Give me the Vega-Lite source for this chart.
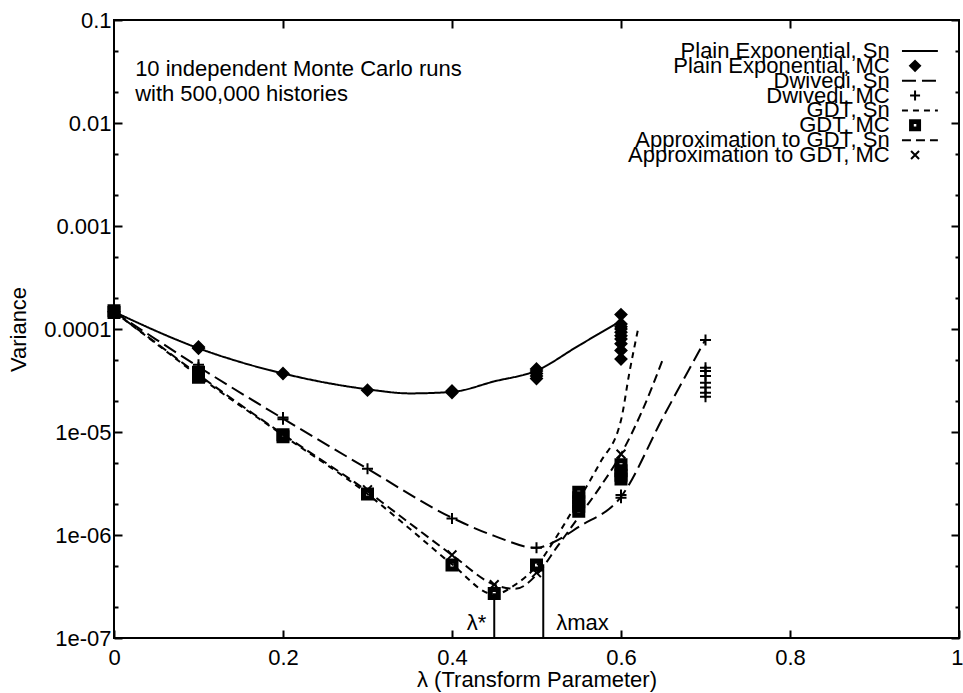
{
  "$schema": "https://vega.github.io/schema/vega-lite/v6.json",
  "width": 845,
  "height": 618,
  "autosize": {"type": "none"},
  "padding": {"left": 114, "top": 20, "right": 4, "bottom": 55},
  "background": "white",
  "config": {
    "font": "Liberation Sans",
    "view": {"stroke": "black", "strokeWidth": 2},
    "axis": {
      "labelFont": "Liberation Sans",
      "labelFontSize": 22,
      "labelColor": "black",
      "titleFont": "Liberation Sans",
      "titleFontSize": 22,
      "titleFontWeight": "normal",
      "titleColor": "black",
      "tickColor": "black",
      "tickWidth": 2,
      "grid": false,
      "domain": false,
      "labelFlush": false,
      "labelOverlap": false,
      "labelBound": false
    }
  },
  "datasets": {
    "series": [
      {"series": "Plain Exponential, Sn", "lambda": 0, "variance": 0.000147},
      {"series": "Plain Exponential, Sn", "lambda": 0.1, "variance": 0.000065},
      {"series": "Plain Exponential, Sn", "lambda": 0.2, "variance": 0.000037},
      {"series": "Plain Exponential, Sn", "lambda": 0.3, "variance": 0.000026},
      {"series": "Plain Exponential, Sn", "lambda": 0.35, "variance": 0.0000237},
      {"series": "Plain Exponential, Sn", "lambda": 0.4, "variance": 0.0000245},
      {"series": "Plain Exponential, Sn", "lambda": 0.45, "variance": 0.000031},
      {"series": "Plain Exponential, Sn", "lambda": 0.5, "variance": 0.0000395},
      {"series": "Plain Exponential, Sn", "lambda": 0.55, "variance": 0.000069},
      {"series": "Plain Exponential, Sn", "lambda": 0.6, "variance": 0.00012},

      {"series": "Dwivedi, Sn", "lambda": 0, "variance": 0.000147},
      {"series": "Dwivedi, Sn", "lambda": 0.05, "variance": 0.000079},
      {"series": "Dwivedi, Sn", "lambda": 0.1, "variance": 0.000043},
      {"series": "Dwivedi, Sn", "lambda": 0.2, "variance": 0.0000135},
      {"series": "Dwivedi, Sn", "lambda": 0.3, "variance": 0.0000044},
      {"series": "Dwivedi, Sn", "lambda": 0.4, "variance": 0.00000147},
      {"series": "Dwivedi, Sn", "lambda": 0.45, "variance": 0.00000098},
      {"series": "Dwivedi, Sn", "lambda": 0.5, "variance": 0.00000075},
      {"series": "Dwivedi, Sn", "lambda": 0.52, "variance": 0.00000085},
      {"series": "Dwivedi, Sn", "lambda": 0.55, "variance": 0.0000012},
      {"series": "Dwivedi, Sn", "lambda": 0.6, "variance": 0.00000235},
      {"series": "Dwivedi, Sn", "lambda": 0.65, "variance": 0.000014},
      {"series": "Dwivedi, Sn", "lambda": 0.7, "variance": 0.000079},

      {"series": "GDT, Sn", "lambda": 0, "variance": 0.000147},
      {"series": "GDT, Sn", "lambda": 0.05, "variance": 0.000072},
      {"series": "GDT, Sn", "lambda": 0.1, "variance": 0.000035},
      {"series": "GDT, Sn", "lambda": 0.2, "variance": 0.0000093},
      {"series": "GDT, Sn", "lambda": 0.3, "variance": 0.0000025},
      {"series": "GDT, Sn", "lambda": 0.35, "variance": 0.00000115},
      {"series": "GDT, Sn", "lambda": 0.4, "variance": 0.00000052},
      {"series": "GDT, Sn", "lambda": 0.45, "variance": 0.000000265},
      {"series": "GDT, Sn", "lambda": 0.475, "variance": 0.00000033},
      {"series": "GDT, Sn", "lambda": 0.5, "variance": 0.0000005},
      {"series": "GDT, Sn", "lambda": 0.525, "variance": 0.000001},
      {"series": "GDT, Sn", "lambda": 0.55, "variance": 0.0000022},
      {"series": "GDT, Sn", "lambda": 0.575, "variance": 0.000005},
      {"series": "GDT, Sn", "lambda": 0.6, "variance": 0.000013},
      {"series": "GDT, Sn", "lambda": 0.61, "variance": 0.000038},
      {"series": "GDT, Sn", "lambda": 0.62, "variance": 0.000098},

      {"series": "Approximation to GDT, Sn", "lambda": 0, "variance": 0.000147},
      {"series": "Approximation to GDT, Sn", "lambda": 0.05, "variance": 0.000073},
      {"series": "Approximation to GDT, Sn", "lambda": 0.1, "variance": 0.000036},
      {"series": "Approximation to GDT, Sn", "lambda": 0.2, "variance": 0.0000095},
      {"series": "Approximation to GDT, Sn", "lambda": 0.3, "variance": 0.00000265},
      {"series": "Approximation to GDT, Sn", "lambda": 0.35, "variance": 0.0000013},
      {"series": "Approximation to GDT, Sn", "lambda": 0.4, "variance": 0.00000064},
      {"series": "Approximation to GDT, Sn", "lambda": 0.45, "variance": 0.00000033},
      {"series": "Approximation to GDT, Sn", "lambda": 0.475, "variance": 0.0000003},
      {"series": "Approximation to GDT, Sn", "lambda": 0.5, "variance": 0.00000041},
      {"series": "Approximation to GDT, Sn", "lambda": 0.525, "variance": 0.00000078},
      {"series": "Approximation to GDT, Sn", "lambda": 0.55, "variance": 0.0000015},
      {"series": "Approximation to GDT, Sn", "lambda": 0.575, "variance": 0.0000029},
      {"series": "Approximation to GDT, Sn", "lambda": 0.6, "variance": 0.0000061},
      {"series": "Approximation to GDT, Sn", "lambda": 0.625, "variance": 0.000016},
      {"series": "Approximation to GDT, Sn", "lambda": 0.65, "variance": 0.000052},

      {"series": "Plain Exponential, MC", "lambda": 0, "variance": 0.000147},
      {"series": "Plain Exponential, MC", "lambda": 0.1, "variance": 0.000065},
      {"series": "Plain Exponential, MC", "lambda": 0.1, "variance": 0.000067},
      {"series": "Plain Exponential, MC", "lambda": 0.2, "variance": 0.000037},
      {"series": "Plain Exponential, MC", "lambda": 0.3, "variance": 0.0000255},
      {"series": "Plain Exponential, MC", "lambda": 0.4, "variance": 0.0000242},
      {"series": "Plain Exponential, MC", "lambda": 0.4, "variance": 0.000025},
      {"series": "Plain Exponential, MC", "lambda": 0.5, "variance": 0.000033},
      {"series": "Plain Exponential, MC", "lambda": 0.5, "variance": 0.000035},
      {"series": "Plain Exponential, MC", "lambda": 0.5, "variance": 0.000037},
      {"series": "Plain Exponential, MC", "lambda": 0.5, "variance": 0.000039},
      {"series": "Plain Exponential, MC", "lambda": 0.5, "variance": 0.000041},
      {"series": "Plain Exponential, MC", "lambda": 0.6, "variance": 0.000138},
      {"series": "Plain Exponential, MC", "lambda": 0.6, "variance": 0.000112},
      {"series": "Plain Exponential, MC", "lambda": 0.6, "variance": 0.000105},
      {"series": "Plain Exponential, MC", "lambda": 0.6, "variance": 0.0001},
      {"series": "Plain Exponential, MC", "lambda": 0.6, "variance": 0.000093},
      {"series": "Plain Exponential, MC", "lambda": 0.6, "variance": 0.000086},
      {"series": "Plain Exponential, MC", "lambda": 0.6, "variance": 0.00008},
      {"series": "Plain Exponential, MC", "lambda": 0.6, "variance": 0.000072},
      {"series": "Plain Exponential, MC", "lambda": 0.6, "variance": 0.000062},
      {"series": "Plain Exponential, MC", "lambda": 0.6, "variance": 0.000051},

      {"series": "Dwivedi, MC", "lambda": 0, "variance": 0.000147},
      {"series": "Dwivedi, MC", "lambda": 0.1, "variance": 0.000042},
      {"series": "Dwivedi, MC", "lambda": 0.1, "variance": 0.000045},
      {"series": "Dwivedi, MC", "lambda": 0.2, "variance": 0.0000133},
      {"series": "Dwivedi, MC", "lambda": 0.2, "variance": 0.0000138},
      {"series": "Dwivedi, MC", "lambda": 0.3, "variance": 0.0000044},
      {"series": "Dwivedi, MC", "lambda": 0.4, "variance": 0.00000145},
      {"series": "Dwivedi, MC", "lambda": 0.5, "variance": 0.00000075},
      {"series": "Dwivedi, MC", "lambda": 0.6, "variance": 0.0000023},
      {"series": "Dwivedi, MC", "lambda": 0.6, "variance": 0.00000245},
      {"series": "Dwivedi, MC", "lambda": 0.7, "variance": 0.000078},
      {"series": "Dwivedi, MC", "lambda": 0.7, "variance": 0.000042},
      {"series": "Dwivedi, MC", "lambda": 0.7, "variance": 0.000039},
      {"series": "Dwivedi, MC", "lambda": 0.7, "variance": 0.000035},
      {"series": "Dwivedi, MC", "lambda": 0.7, "variance": 0.00003},
      {"series": "Dwivedi, MC", "lambda": 0.7, "variance": 0.000027},
      {"series": "Dwivedi, MC", "lambda": 0.7, "variance": 0.000024},
      {"series": "Dwivedi, MC", "lambda": 0.7, "variance": 0.000022},

      {"series": "GDT, MC", "lambda": 0, "variance": 0.000145},
      {"series": "GDT, MC", "lambda": 0, "variance": 0.00015},
      {"series": "GDT, MC", "lambda": 0.1, "variance": 0.000034},
      {"series": "GDT, MC", "lambda": 0.1, "variance": 0.000036},
      {"series": "GDT, MC", "lambda": 0.1, "variance": 0.000038},
      {"series": "GDT, MC", "lambda": 0.2, "variance": 0.000009},
      {"series": "GDT, MC", "lambda": 0.2, "variance": 0.0000094},
      {"series": "GDT, MC", "lambda": 0.3, "variance": 0.0000025},
      {"series": "GDT, MC", "lambda": 0.4, "variance": 0.00000051},
      {"series": "GDT, MC", "lambda": 0.45, "variance": 0.00000027},
      {"series": "GDT, MC", "lambda": 0.5, "variance": 0.00000051},
      {"series": "GDT, MC", "lambda": 0.55, "variance": 0.0000026},
      {"series": "GDT, MC", "lambda": 0.55, "variance": 0.0000023},
      {"series": "GDT, MC", "lambda": 0.55, "variance": 0.0000021},
      {"series": "GDT, MC", "lambda": 0.55, "variance": 0.0000019},
      {"series": "GDT, MC", "lambda": 0.55, "variance": 0.0000017},
      {"series": "GDT, MC", "lambda": 0.6, "variance": 0.0000048},
      {"series": "GDT, MC", "lambda": 0.6, "variance": 0.0000042},
      {"series": "GDT, MC", "lambda": 0.6, "variance": 0.0000038},
      {"series": "GDT, MC", "lambda": 0.6, "variance": 0.0000035},

      {"series": "Approximation to GDT, MC", "lambda": 0, "variance": 0.000147},
      {"series": "Approximation to GDT, MC", "lambda": 0.1, "variance": 0.000038},
      {"series": "Approximation to GDT, MC", "lambda": 0.2, "variance": 0.0000096},
      {"series": "Approximation to GDT, MC", "lambda": 0.3, "variance": 0.00000275},
      {"series": "Approximation to GDT, MC", "lambda": 0.4, "variance": 0.00000064},
      {"series": "Approximation to GDT, MC", "lambda": 0.45, "variance": 0.00000033},
      {"series": "Approximation to GDT, MC", "lambda": 0.5, "variance": 0.00000043},
      {"series": "Approximation to GDT, MC", "lambda": 0.6, "variance": 0.0000061},
      {"series": "Approximation to GDT, MC", "lambda": 0.6, "variance": 0.0000045},
      {"series": "Approximation to GDT, MC", "lambda": 0.6, "variance": 0.000004}
    ],
    "thresholds": [
      {"label": "λ*", "lambda": 0.45, "variance": 0.00000027},
      {"label": "λmax", "lambda": 0.508, "variance": 0.00000052}
    ]
  },
  "layer": [
    {
      "layer": [
        {
          "data": {"name": "series"},
          "transform": [{"filter": "indexof(datum.series, ', Sn') >= 0"}],
          "mark": {"type": "line", "color": "black", "strokeWidth": 2, "interpolate": "monotone"},
          "encoding": {
            "x": {
              "field": "lambda", "type": "quantitative",
              "scale": {"domain": [0, 1], "nice": false, "zero": false},
              "title": "λ (Transform Parameter)",
              "axis": {
                "orient": "bottom",
                "values": [0, 0.2, 0.4, 0.6, 0.8, 1],
                "labelExpr": "datum.value == 0 ? '0' : datum.value == 1 ? '1' : format(datum.value, '.1f')",
                "labelAlign": {"condition": {"test": "datum.value == 1", "value": "right"}, "value": "center"},
                "labelOffset": {"condition": {"test": "datum.value == 1", "value": 4}, "value": 0},
                "tickSize": -8,
                "labelPadding": 17,
                "titleY": 41,
                "titleBaseline": "middle"
              }
            },
            "y": {
              "field": "variance", "type": "quantitative",
              "scale": {"type": "log", "domain": [1e-7, 0.1], "nice": false},
              "title": "Variance",
              "axis": {
                "orient": "left",
                "values": [1e-7, 2e-7, 5e-7, 1e-6, 2e-6, 5e-6, 1e-5, 2e-5, 5e-5, 0.0001, 0.0002, 0.0005, 0.001, 0.002, 0.005, 0.01, 0.02, 0.05, 0.1],
                "labelExpr": "abs(log(datum.value)/LN10 - round(log(datum.value)/LN10)) < 0.01 ? (datum.value >= 0.0001 ? toString(datum.value) : '1e-0' + toString(-round(log(datum.value)/LN10))) : ''",
                "tickSize": {"condition": {"test": "abs(log(datum.value)/LN10 - round(log(datum.value)/LN10)) < 0.01", "value": -8}, "value": -4},
                "labelPadding": 11,
                "titleX": -96,
                "titleY": 309,
                "titleAngle": -90,
                "titleAlign": "center",
                "titleBaseline": "middle"
              }
            },
            "strokeDash": {
              "field": "series", "type": "nominal",
              "scale": {
                "domain": ["Plain Exponential, Sn", "Plain Exponential, MC", "Dwivedi, Sn", "Dwivedi, MC", "GDT, Sn", "GDT, MC", "Approximation to GDT, Sn", "Approximation to GDT, MC"],
                "range": [[1, 0], [1, 0], [14, 6], [1, 0], [6, 5], [1, 0], [9, 5], [1, 0]]
              },
              "legend": null
            }
          }
        },
        {
          "data": {"name": "series"},
          "transform": [{"filter": "indexof(datum.series, ', MC') >= 0"}],
          "mark": {"type": "point", "size": 121, "strokeWidth": 2, "color": "black", "opacity": 1},
          "encoding": {
            "x": {
              "field": "lambda", "type": "quantitative",
              "axis": {"orient": "top", "values": [0.2, 0.4, 0.6, 0.8], "labels": false, "tickSize": -8, "title": null}
            },
            "y": {
              "field": "variance", "type": "quantitative",
              "axis": {
                "orient": "right",
                "values": [1e-7, 2e-7, 5e-7, 1e-6, 2e-6, 5e-6, 1e-5, 2e-5, 5e-5, 0.0001, 0.0002, 0.0005, 0.001, 0.002, 0.005, 0.01, 0.02, 0.05, 0.1],
                "labels": false,
                "tickSize": {"condition": {"test": "abs(log(datum.value)/LN10 - round(log(datum.value)/LN10)) < 0.01", "value": -8}, "value": -4},
                "title": null
              }
            },
            "shape": {
              "field": "series", "type": "nominal",
              "scale": {
                "domain": ["Plain Exponential, Sn", "Plain Exponential, MC", "Dwivedi, Sn", "Dwivedi, MC", "GDT, Sn", "GDT, MC", "Approximation to GDT, Sn", "Approximation to GDT, MC"],
                "range": ["M-3.6,0H3.6", "M0,-1L1,0L0,1L-1,0Z", "M-3.6,0H3.6", "M-1,0H1M0,-1V1", "M-3.6,0H3.6", "M-1,-1H1V1H-1ZM-0.45,-0.45V0.45H0.45V-0.45Z", "M-3.6,0H3.6", "M-0.8,-0.8L0.8,0.8M-0.8,0.8L0.8,-0.8"]
              },
              "legend": null
            },
            "fill": {
              "field": "series", "type": "nominal",
              "scale": {
                "domain": ["Plain Exponential, Sn", "Plain Exponential, MC", "Dwivedi, Sn", "Dwivedi, MC", "GDT, Sn", "GDT, MC", "Approximation to GDT, Sn", "Approximation to GDT, MC"],
                "range": ["transparent", "black", "transparent", "transparent", "transparent", "black", "transparent", "transparent"]
              },
              "legend": null
            }
          }
        },
        {
          "data": {"name": "thresholds"},
          "mark": {"type": "rule", "color": "black", "strokeWidth": 2},
          "encoding": {
            "x": {"field": "lambda", "type": "quantitative", "axis": null},
            "y": {"field": "variance", "type": "quantitative", "axis": null},
            "y2": {"datum": 1e-7}
          }
        },
        {
          "data": {"name": "thresholds"},
          "transform": [{"filter": "datum.label == 'λ*'"}],
          "mark": {"type": "text", "align": "right", "baseline": "middle", "dx": -8, "dy": -15, "fontSize": 22, "color": "black"},
          "encoding": {
            "x": {"field": "lambda", "type": "quantitative", "axis": null},
            "y": {"datum": 1e-7, "type": "quantitative", "axis": null},
            "text": {"field": "label"}
          }
        },
        {
          "data": {"name": "thresholds"},
          "transform": [{"filter": "datum.label == 'λmax'"}],
          "mark": {"type": "text", "align": "left", "baseline": "middle", "dx": 13, "dy": -15, "fontSize": 22, "color": "black"},
          "encoding": {
            "x": {"field": "lambda", "type": "quantitative", "axis": null},
            "y": {"datum": 1e-7, "type": "quantitative", "axis": null},
            "text": {"field": "label"}
          }
        },
        {
          "data": {"values": [{}]},
          "mark": {"type": "text", "align": "left", "baseline": "top", "fontSize": 22, "lineHeight": 25, "color": "black", "text": ["10 independent Monte Carlo runs", "with 500,000 histories"]},
          "encoding": {
            "x": {"datum": 0.025, "type": "quantitative", "axis": null},
            "y": {"datum": 0.042, "type": "quantitative", "axis": null}
          }
        }
      ],
      "resolve": {"axis": {"x": "independent", "y": "independent"}}
    },
    {
      "data": {"name": "series"},
      "transform": [{"aggregate": [{"op": "count", "as": "n"}], "groupby": ["series"]}],
      "layer": [
        {
          "mark": {"type": "text", "align": "right", "baseline": "middle", "fontSize": 22, "color": "black"},
          "encoding": {
            "x": {"datum": 0.918, "type": "quantitative", "axis": null},
            "y": {
              "field": "series", "type": "nominal", "axis": null,
              "scale": {
                "type": "point",
                "domain": ["Plain Exponential, Sn", "Plain Exponential, MC", "Dwivedi, Sn", "Dwivedi, MC", "GDT, Sn", "GDT, MC", "Approximation to GDT, Sn", "Approximation to GDT, MC"],
                "range": [31, 135],
                "padding": 0
              }
            },
            "text": {"field": "series"}
          }
        },
        {
          "transform": [{"filter": "indexof(datum.series, ', Sn') >= 0"}],
          "mark": {"type": "rule", "color": "black", "strokeWidth": 2},
          "encoding": {
            "x": {"datum": 0.9325, "type": "quantitative", "axis": null},
            "x2": {"datum": 0.975},
            "y": {"field": "series", "type": "nominal", "axis": null},
            "strokeDash": {"field": "series", "type": "nominal", "legend": null}
          }
        },
        {
          "transform": [{"filter": "indexof(datum.series, ', MC') >= 0"}],
          "mark": {"type": "point", "size": 100, "strokeWidth": 2, "color": "black", "opacity": 1},
          "encoding": {
            "x": {"datum": 0.948, "type": "quantitative", "axis": null},
            "y": {"field": "series", "type": "nominal", "axis": null},
            "shape": {"field": "series", "type": "nominal", "legend": null},
            "fill": {"field": "series", "type": "nominal", "legend": null}
          }
        }
      ]
    }
  ],
  "resolve": {"scale": {"y": "independent"}, "axis": {"x": "independent", "y": "independent"}}
}
